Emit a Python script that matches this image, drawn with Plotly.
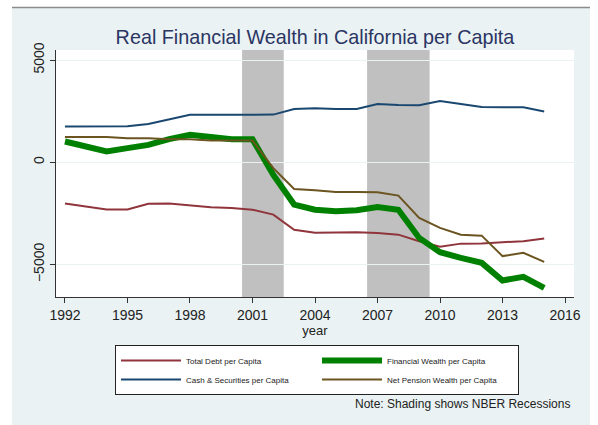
import plotly.graph_objects as go

years = list(range(1992, 2016))
total_debt = [-2020, -2150, -2310, -2310, -2030, -2020, -2120, -2200, -2240, -2320, -2560, -3300,
              -3450, -3420, -3420, -3455, -3540, -3860, -4130, -3980, -3975, -3910, -3860, -3730]
cash_securities = [1750, 1750, 1750, 1760, 1870, 2100, 2320, 2320, 2320, 2320, 2330, 2600,
                   2640, 2600, 2610, 2850, 2800, 2790, 3000, 2850, 2700, 2690, 2690, 2480]
financial_wealth = [1015, 770, 530, 690, 850, 1130, 1340, 1230, 1130, 1130, -620, -2070,
                    -2320, -2400, -2350, -2190, -2320, -3700, -4400, -4680, -4920, -5780, -5600, -6140]
net_pension = [1230, 1230, 1230, 1180, 1180, 1130, 1130, 1060, 1060, 1060, -290, -1310,
               -1370, -1450, -1450, -1470, -1630, -2720, -3210, -3540, -3590, -4590, -4430, -4870]
recessions = [(2000.5, 2002.5), (2006.5, 2009.5)]
x_ticks = [1992, 1995, 1998, 2001, 2004, 2007, 2010, 2013, 2016]
y_ticks = [-5000, 0, 5000]

W, H = 598, 425
ML, MR, MT, MB = 56, 24, 50, 128
PW, PH = W - ML - MR, H - MT - MB

def px(x):
    return (x - ML) / PW

def py(y):
    return (H - MB - y) / PH

fig = go.Figure()
fig.add_trace(go.Scatter(x=years, y=total_debt, mode="lines", name="Total Debt per Capita",
                         line=dict(color="#90353B", width=2)))
fig.add_trace(go.Scatter(x=years, y=financial_wealth, mode="lines", name="Financial Wealth per Capita",
                         line=dict(color="#008000", width=6)))
fig.add_trace(go.Scatter(x=years, y=cash_securities, mode="lines", name="Cash & Securities per Capita",
                         line=dict(color="#1A476F", width=2)))
fig.add_trace(go.Scatter(x=years, y=net_pension, mode="lines", name="Net Pension Wealth per Capita",
                         line=dict(color="#6B5420", width=2)))

YR = [-6590, 5490]
shapes = []
shapes.append(dict(type="rect", xref="paper", yref="paper", x0=px(-10), x1=px(12), y0=py(500), y1=py(-10),
                   fillcolor="white", line=dict(width=0), layer="below"))
shapes.append(dict(type="rect", xref="paper", yref="paper", x0=px(590), x1=px(610), y0=py(500), y1=py(-10),
                   fillcolor="white", line=dict(width=0), layer="below"))
shapes.append(dict(type="rect", xref="paper", yref="paper", x0=px(-10), x1=px(610), y0=py(7.5), y1=py(-10),
                   fillcolor="white", line=dict(width=0), layer="below"))
shapes.append(dict(type="line", xref="paper", yref="paper", x0=px(12), x1=px(590), y0=py(7.5), y1=py(7.5),
                   line=dict(color="#8C8C8C", width=1.5), layer="below"))
for a, b in recessions:
    shapes.append(dict(type="rect", xref="x", yref="y", x0=a, x1=b, y0=YR[0], y1=YR[1],
                       fillcolor="#C0C0C0", line=dict(width=0), layer="below"))

fig.update_layout(
    width=W, height=H,
    margin=dict(l=ML, r=MR, t=MT, b=MB),
    paper_bgcolor="#EAF2F3",
    plot_bgcolor="white",
    font=dict(family="Liberation Sans, Arial, sans-serif", color="#222222"),
    title=dict(text="Real Financial Wealth in California per Capita", x=315 / W, xanchor="center",
               y=1 - 37 / H, yanchor="middle", font=dict(size=19.8, color="#2A3563")),
    shapes=shapes,
    showlegend=True,
    legend=dict(orientation="h", x=px(115), xanchor="left", y=py(345), yanchor="top",
                bgcolor="white", bordercolor="#222222", borderwidth=1,
                font=dict(size=8, color="#222222"), entrywidth=126, entrywidthmode="pixels",
                itemwidth=60, traceorder="normal"),
    annotations=[dict(text="Note: Shading shows NBER Recessions", xref="paper", yref="paper",
                      x=px(572), y=py(404), xanchor="right", yanchor="middle", showarrow=False,
                      font=dict(size=12, color="#222222"))],
)
fig.update_xaxes(range=[1991.57, 2016.43], tickvals=x_ticks, ticks="outside", ticklen=5, tickcolor="#333333",
                 showline=True, linecolor="#333333", linewidth=1, showgrid=False, zeroline=False,
                 tickfont=dict(size=14, color="#222222"),
                 title=dict(text="year", font=dict(size=13, color="#222222"), standoff=0))
fig.update_yaxes(range=YR, tickvals=y_ticks, ticks="outside", ticklen=5, tickcolor="#333333",
                 showline=True, linecolor="#333333", linewidth=1, showgrid=True, gridcolor="#EAF2F3",
                 gridwidth=1, zeroline=False, tickangle=-90, tickfont=dict(size=14, color="#222222"))

fig.write_html("out.html", config={"displayModeBar": False},
               post_script="document.body.style.margin='0px';")
